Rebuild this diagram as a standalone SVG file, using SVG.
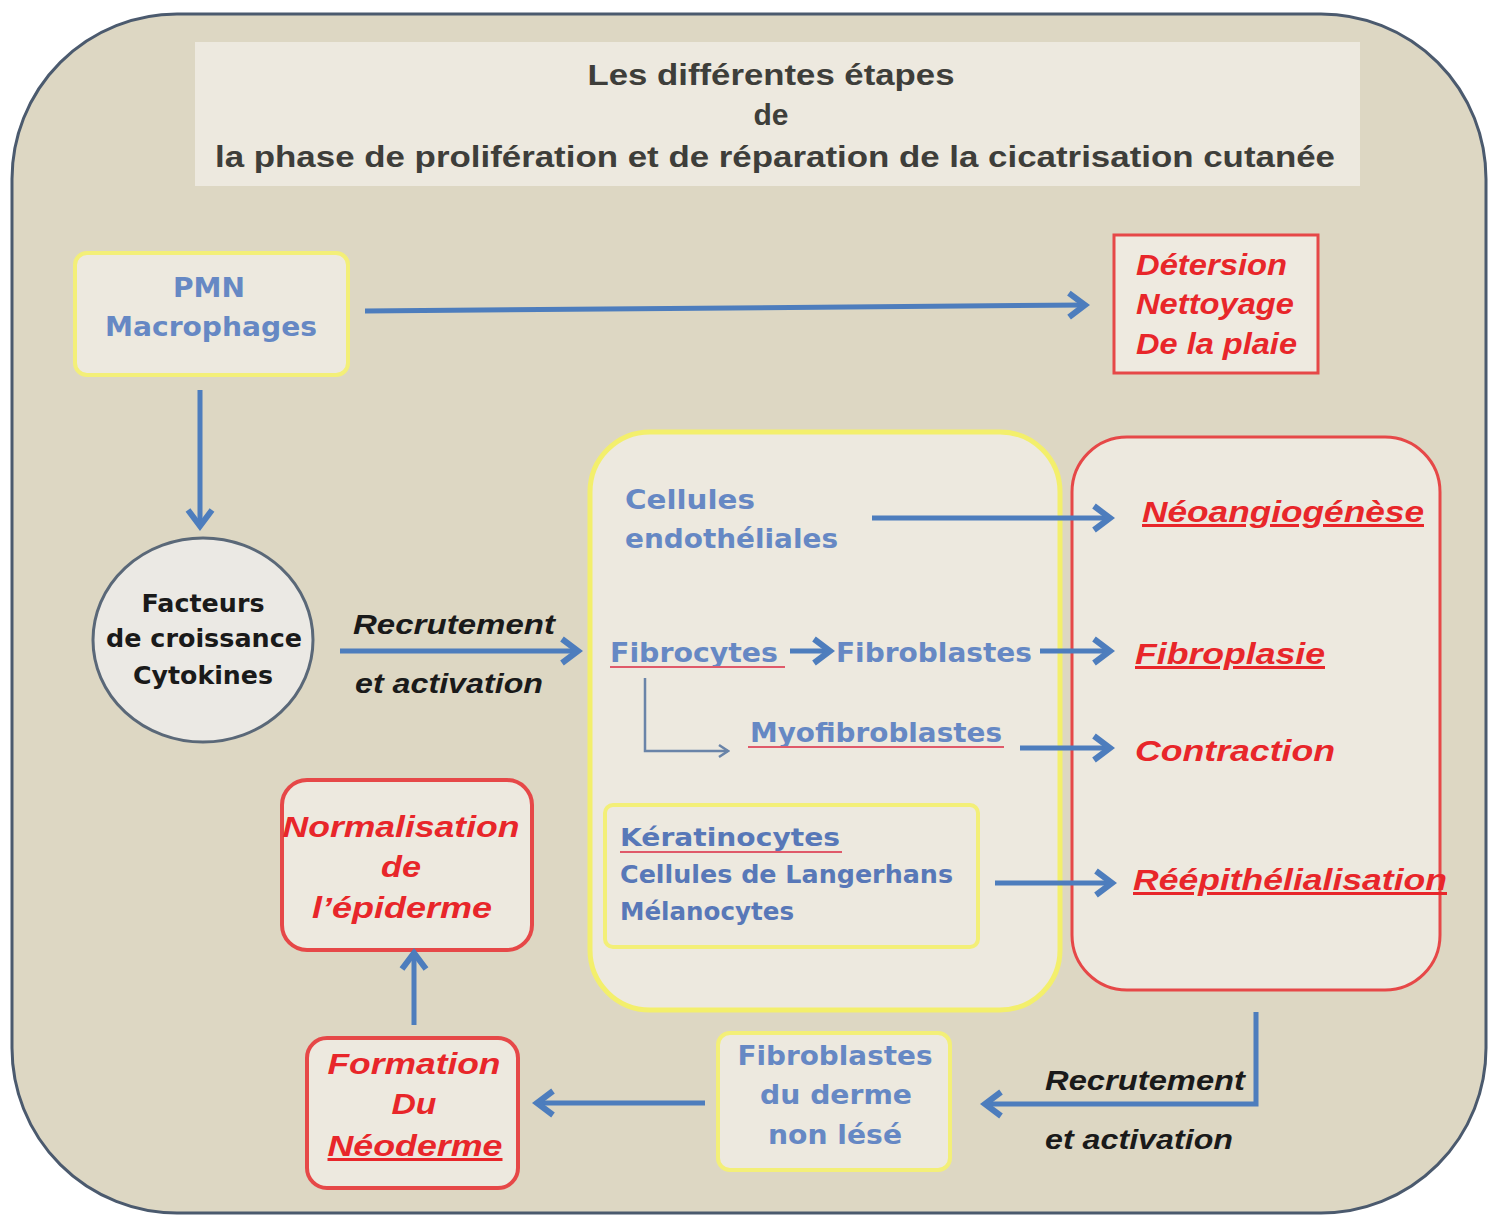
<svg xmlns="http://www.w3.org/2000/svg" width="1497" height="1215" viewBox="0 0 1497 1215">
<style>
.title{font-family:"Liberation Sans",Arial,sans-serif;font-weight:bold;font-size:30px;fill:#3e3e3a}
.blue{font-family:"DejaVu Sans","Liberation Sans",sans-serif;font-weight:bold;font-size:27px;fill:#6688c4}
.blue2{font-family:"DejaVu Sans","Liberation Sans",sans-serif;font-weight:bold;font-size:25px;fill:#5878b8}
.red{font-family:"Liberation Sans",Arial,sans-serif;font-weight:bold;font-style:italic;font-size:30px;fill:#e8262a}
.blk{font-family:"Liberation Sans",Arial,sans-serif;font-weight:bold;font-style:italic;font-size:28px;fill:#1a1a1a}
.circ{font-family:"DejaVu Sans","Liberation Sans",sans-serif;font-weight:bold;font-size:24px;fill:#1a1a1a}
.ybox{fill:#ede9df;stroke:#f3ef78;stroke-width:4}
.rbox{fill:#ede9df;stroke:#e64848;stroke-width:4}
.arr{fill:none;stroke:#4d7dbd;stroke-width:5;marker-end:url(#head)}
.thin{fill:none;stroke:#6a84a8;stroke-width:2.5;marker-end:url(#small)}
.ul{stroke:#e05a6a;stroke-width:2}
</style>
<defs>
<marker id="head" markerUnits="userSpaceOnUse" viewBox="0 0 30 30" markerWidth="30" markerHeight="30" refX="25" refY="15" orient="auto">
<path d="M9,3 L25,15 L9,27" fill="none" stroke="#4d7dbd" stroke-width="6" stroke-linejoin="miter"/>
</marker>
<marker id="small" markerUnits="userSpaceOnUse" viewBox="0 0 16 16" markerWidth="16" markerHeight="16" refX="14" refY="8" orient="auto">
<path d="M5,2 L14,8 L5,14" fill="none" stroke="#6a84a8" stroke-width="2.5"/>
</marker>
</defs>

<rect x="0" y="0" width="1497" height="1215" fill="#ffffff"/>
<rect id="frame" x="12" y="14" width="1474" height="1199" rx="165" ry="165" fill="#ddd7c3" stroke="#4b5a6e" stroke-width="3"/>

<g id="title">
<rect x="195" y="42" width="1165" height="144" fill="#ede9df"/>
<text class="title" x="771" y="85" text-anchor="middle" textLength="367" lengthAdjust="spacingAndGlyphs">Les différentes étapes</text>
<text class="title" x="771" y="125" text-anchor="middle">de</text>
<text class="title" x="775" y="167" text-anchor="middle" textLength="1120" lengthAdjust="spacingAndGlyphs">la phase de prolifération et de réparation de la cicatrisation cutanée</text>
</g>

<g id="pmn">
<rect class="ybox" x="75" y="253" width="273" height="122" rx="12"/>
<text class="blue" x="209" y="297" text-anchor="middle" textLength="72" lengthAdjust="spacingAndGlyphs">PMN</text>
<text class="blue" x="211" y="336" text-anchor="middle" textLength="212" lengthAdjust="spacingAndGlyphs">Macrophages</text>
</g>

<g id="detersion">
<rect x="1114" y="235" width="204" height="138" fill="#eeeae0" stroke="#e64848" stroke-width="3"/>
<text class="red" x="1136" y="275" font-size="28" textLength="151" lengthAdjust="spacingAndGlyphs">Détersion</text>
<text class="red" x="1136" y="314" font-size="28" textLength="158" lengthAdjust="spacingAndGlyphs">Nettoyage</text>
<text class="red" x="1136" y="354" font-size="28" textLength="161" lengthAdjust="spacingAndGlyphs">De la plaie</text>
</g>

<g id="facteurs">
<ellipse cx="203" cy="640" rx="110" ry="102" fill="#ebe9e4" stroke="#5a6878" stroke-width="3"/>
<text class="circ" x="203" y="612" text-anchor="middle" textLength="123" lengthAdjust="spacingAndGlyphs">Facteurs</text>
<text class="circ" x="204" y="647" text-anchor="middle" textLength="196" lengthAdjust="spacingAndGlyphs">de croissance</text>
<text class="circ" x="203" y="684" text-anchor="middle" textLength="140" lengthAdjust="spacingAndGlyphs">Cytokines</text>
</g>

<g id="cellules">
<rect x="590" y="432" width="470" height="578" rx="60" fill="#ede9df" stroke="#f3ef6c" stroke-width="5"/>
<text class="blue" x="625" y="509" textLength="130" lengthAdjust="spacingAndGlyphs">Cellules</text>
<text class="blue" x="625" y="548" textLength="213" lengthAdjust="spacingAndGlyphs">endothéliales</text>
<text class="blue" x="610" y="662" fill="#5a7cba" textLength="168" lengthAdjust="spacingAndGlyphs">Fibrocytes</text>
<line class="ul" x1="610" y1="667" x2="785" y2="667"/>
<text class="blue" x="836" y="662" fill="#5a7cba" textLength="196" lengthAdjust="spacingAndGlyphs">Fibroblastes</text>
<text class="blue" x="750" y="742" fill="#6282be" textLength="252" lengthAdjust="spacingAndGlyphs">Myofibroblastes</text>
<line class="ul" x1="748" y1="747" x2="1004" y2="747"/>
</g>

<g id="keratinocytes">
<rect class="ybox" x="605" y="805" width="373" height="142" rx="8"/>
<text class="blue2" x="620" y="846" fill="#4a68b4" font-size="27" textLength="220" lengthAdjust="spacingAndGlyphs">Kératinocytes</text>
<line class="ul" x1="620" y1="852" x2="842" y2="852"/>
<text class="blue2" x="620" y="883" textLength="333" lengthAdjust="spacingAndGlyphs">Cellules de Langerhans</text>
<text class="blue2" x="620" y="920" textLength="174" lengthAdjust="spacingAndGlyphs">Mélanocytes</text>
</g>

<g id="resultats">
<rect x="1072" y="437" width="368" height="553" rx="55" fill="#ede9df" stroke="#e64848" stroke-width="3"/>
<text class="red" x="1142" y="522" text-decoration="underline" textLength="282" lengthAdjust="spacingAndGlyphs">Néoangiogénèse</text>
<text class="red" x="1135" y="664" text-decoration="underline" textLength="190" lengthAdjust="spacingAndGlyphs">Fibroplasie</text>
<text class="red" x="1135" y="761" textLength="200" lengthAdjust="spacingAndGlyphs">Contraction</text>
<text class="red" x="1133" y="890" text-decoration="underline" textLength="314" lengthAdjust="spacingAndGlyphs">Réépithélialisation</text>
</g>

<g id="fibroblastes-derme">
<rect class="ybox" x="718" y="1033" width="232" height="137" rx="12"/>
<text class="blue" x="835" y="1065" text-anchor="middle" textLength="195" lengthAdjust="spacingAndGlyphs">Fibroblastes</text>
<text class="blue" x="836" y="1104" text-anchor="middle" textLength="152" lengthAdjust="spacingAndGlyphs">du derme</text>
<text class="blue" x="835" y="1144" text-anchor="middle" textLength="134" lengthAdjust="spacingAndGlyphs">non lésé</text>
</g>

<g id="neoderme">
<rect class="rbox" x="307" y="1038" width="211" height="150" rx="20"/>
<text class="red" x="414" y="1074" text-anchor="middle" textLength="173" lengthAdjust="spacingAndGlyphs">Formation</text>
<text class="red" x="414" y="1114" text-anchor="middle" textLength="45" lengthAdjust="spacingAndGlyphs">Du</text>
<text class="red" x="415" y="1156" text-anchor="middle" text-decoration="underline" textLength="175" lengthAdjust="spacingAndGlyphs">Néoderme</text>
</g>

<g id="normalisation">
<rect class="rbox" x="282" y="780" width="250" height="170" rx="25" stroke-width="4"/>
<text class="red" x="401" y="837" text-anchor="middle" font-size="32" textLength="237" lengthAdjust="spacingAndGlyphs">Normalisation</text>
<text class="red" x="401" y="877" text-anchor="middle" font-size="32" textLength="40" lengthAdjust="spacingAndGlyphs">de</text>
<text class="red" x="402" y="918" text-anchor="middle" font-size="32" textLength="180" lengthAdjust="spacingAndGlyphs">l’épiderme</text>
</g>

<g id="labels">
<text class="blk" x="353" y="634" textLength="202" lengthAdjust="spacingAndGlyphs">Recrutement</text>
<text class="blk" x="355" y="693" textLength="188" lengthAdjust="spacingAndGlyphs">et activation</text>
<text class="blk" x="1045" y="1090" textLength="200" lengthAdjust="spacingAndGlyphs">Recrutement</text>
<text class="blk" x="1045" y="1149" textLength="188" lengthAdjust="spacingAndGlyphs">et activation</text>
</g>

<g id="connectors">
<path class="arr" d="M365,311 L1085,305"/>
<path class="arr" d="M200,390 L200,526"/>
<path class="arr" d="M340,651 L578,651"/>
<path class="arr" d="M872,518 L1110,518"/>
<path class="arr" d="M790,651 L830,651"/>
<path class="arr" d="M1040,651 L1110,651"/>
<path class="thin" d="M645,678 L645,751 L728,751"/>
<path class="arr" d="M1020,748 L1110,748"/>
<path class="arr" d="M995,883 L1112,883"/>
<path class="arr" d="M1256,1012 L1256,1104 L985,1104"/>
<path class="arr" d="M705,1103 L537,1103"/>
<path class="arr" d="M414,1025 L414,953"/>
</g>
</svg>
